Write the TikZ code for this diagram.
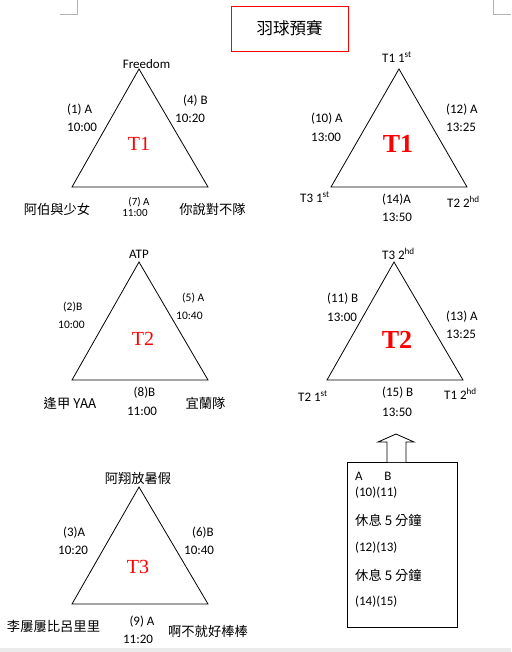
\documentclass[tikz,border=0pt]{standalone}
\usepackage{fontspec}
\setmainfont{Carlito}
\newfontfamily\cjk{Noto Sans CJK TC}
\newfontfamily\serifT{Liberation Serif}
\begin{document}
\begin{tikzpicture}[x=1pt,y=-1pt,
  lbl/.style={font=\fontsize{13}{13}\selectfont, inner sep=0pt},
  slbl/.style={font=\fontsize{11.5}{11.5}\selectfont, inner sep=0pt},
  cjkl/.style={font=\cjk\fontsize{13.3}{13.3}\selectfont, inner sep=0pt},
  tname/.style={font=\serifT\fontsize{20}{20}\selectfont, text=red, inner sep=0pt},
  tbold/.style={font=\serifT\bfseries\fontsize{26}{26}\selectfont, text=red, inner sep=0pt},
  tri/.style={draw=black, line width=0.8pt, line join=miter},
  cornermark/.style={draw=black!30, line width=0.8pt}]
\useasboundingbox (0,0) rectangle (511,652);
\fill[black!8] (0,648) rectangle (511,652);
% corner marks
\draw[cornermark] (60,14) -- (77,14) -- (77,0);
\draw[cornermark] (511,14) -- (493,14) -- (493,0);
% title
\node[draw=red, line width=0.8pt, minimum width=117pt, minimum height=45pt, inner sep=0pt,
  font=\cjk\fontsize{16.5}{16.5}\selectfont] (title) at (289.5,28.5) {羽球預賽};

% ---- Left T1
\coordinate (L1a) at (139,69); \coordinate (L1b) at (72,187); \coordinate (L1c) at (208,187);
\draw[tri] (L1a) -- (L1b) -- (L1c) -- cycle;
\node[lbl] (L1top) at (146.5,64) {Freedom};
\node[lbl, anchor=west] (L1l1) at (67,110) {(1) A};
\node[lbl, anchor=west] (L1l2) at (67,127) {10:00};
\node[lbl, anchor=west] (L1r1) at (183,101) {(4) B};
\node[lbl, anchor=west] (L1r2) at (175,118) {10:20};
\node[tname] (L1n) at (139,144) {T1};
\node[cjkl] (L1bl) at (57,209) {阿伯與少女};
\node[font=\fontsize{11}{11}\selectfont, inner sep=0pt] (L1b1) at (139,202.5) {(7) A};
\node[font=\fontsize{11}{11}\selectfont, inner sep=0pt] (L1b2) at (135,213) {11:00};
\node[cjkl] (L1br) at (212.5,209) {你說對不隊};

% ---- Left T2
\coordinate (L2a) at (139,262); \coordinate (L2b) at (72,380); \coordinate (L2c) at (208,380);
\draw[tri] (L2a) -- (L2b) -- (L2c) -- cycle;
\node[lbl] (L2top) at (139,254) {ATP};
\node[slbl, anchor=west] (L2l1) at (63,307) {(2)B};
\node[slbl, anchor=west] (L2l2) at (58,325) {10:00};
\node[slbl, anchor=west] (L2r1) at (182,298) {(5) A};
\node[slbl, anchor=west] (L2r2) at (176,316) {10:40};
\node[tname] (L2n) at (143,339) {T2};
\node[cjkl] (L2bl) at (70,403) {逢甲 YAA};
\node[lbl] (L2b1) at (144.5,393) {(8)B};
\node[lbl] (L2b2) at (142,411) {11:00};
\node[cjkl] (L2br) at (205.5,403) {宜蘭隊};

% ---- Left T3
\coordinate (L3a) at (139,487); \coordinate (L3b) at (72,604); \coordinate (L3c) at (208,604);
\draw[tri] (L3a) -- (L3b) -- (L3c) -- cycle;
\node[cjkl] (L3top) at (138,478) {阿翔放暑假};
\node[lbl, anchor=west] (L3l1) at (63,533) {(3)A};
\node[lbl, anchor=west] (L3l2) at (58,550) {10:20};
\node[lbl, anchor=west] (L3r1) at (192,533) {(6)B};
\node[lbl, anchor=west] (L3r2) at (184,550) {10:40};
\node[tname] (L3n) at (138,567) {T3};
\node[cjkl] (L3bl) at (53.5,626) {李屢屢比呂里里};
\node[lbl] (L3b1) at (142,622) {(9) A};
\node[lbl] (L3b2) at (138,639) {11:20};
\node[cjkl] (L3br) at (208,631) {啊不就好棒棒};

% ---- Right T1
\coordinate (R1a) at (399,69); \coordinate (R1b) at (331,187); \coordinate (R1c) at (467,187);
\draw[tri] (R1a) -- (R1b) -- (R1c) -- cycle;
\node[lbl, anchor=west] (R1top) at (382,57) {T1 1\textsuperscript{st}};
\node[lbl, anchor=west] (R1l1) at (311,119) {(10) A};
\node[lbl, anchor=west] (R1l2) at (311,137) {13:00};
\node[lbl, anchor=west] (R1r1) at (446,110) {(12) A};
\node[lbl, anchor=west] (R1r2) at (446,127) {13:25};
\node[tbold] (R1n) at (398,144) {T1};
\node[lbl, anchor=west] (R1bl) at (300,197) {T3 1\textsuperscript{st}};
\node[lbl, anchor=west] (R1b1) at (382,200) {(14)A};
\node[lbl, anchor=west] (R1b2) at (382,217) {13:50};
\node[lbl, anchor=west] (R1br) at (447,202) {T2 2\textsuperscript{hd}};

% ---- Right T2
\coordinate (R2a) at (394,262); \coordinate (R2b) at (327,380); \coordinate (R2c) at (463,380);
\draw[tri] (R2a) -- (R2b) -- (R2c) -- cycle;
\node[lbl, anchor=west] (R2top) at (382,254) {T3 2\textsuperscript{hd}};
\node[lbl, anchor=west] (R2l1) at (327,299) {(11) B};
\node[lbl, anchor=west] (R2l2) at (327,317) {13:00};
\node[lbl, anchor=west] (R2r1) at (446,317) {(13) A};
\node[lbl, anchor=west] (R2r2) at (446,334) {13:25};
\node[tbold] (R2n) at (397,340) {T2};
\node[lbl, anchor=west] (R2bl) at (298,396) {T2 1\textsuperscript{st}};
\node[lbl, anchor=west] (R2b1) at (382,393) {(15) B};
\node[lbl, anchor=west] (R2b2) at (382,412) {13:50};
\node[lbl, anchor=west] (R2br) at (444,394) {T1 2\textsuperscript{hd}};

% ---- schedule box
\node[draw=black, line width=0.8pt, minimum width=110pt, minimum height=165pt, inner sep=0pt] (box) at (402,544.5) {};
\draw[line width=0.8pt, fill=white] (387,462) -- (387,442) -- (378,442) -- (396,434) -- (414,442) -- (406,442) -- (406,462);
\node[lbl] (bA) at (359,476) {A};
\node[lbl] (bB) at (388,476) {B};
\node[lbl, anchor=west] (b1) at (355,493) {(10)(11)};
\node[cjkl, anchor=west] (b2) at (355,520) {休息 5 分鐘};
\node[lbl, anchor=west] (b3) at (355,548) {(12)(13)};
\node[cjkl, anchor=west] (b4) at (355,575) {休息 5 分鐘};
\node[lbl, anchor=west] (b5) at (355,602) {(14)(15)};
\end{tikzpicture}
\end{document}
